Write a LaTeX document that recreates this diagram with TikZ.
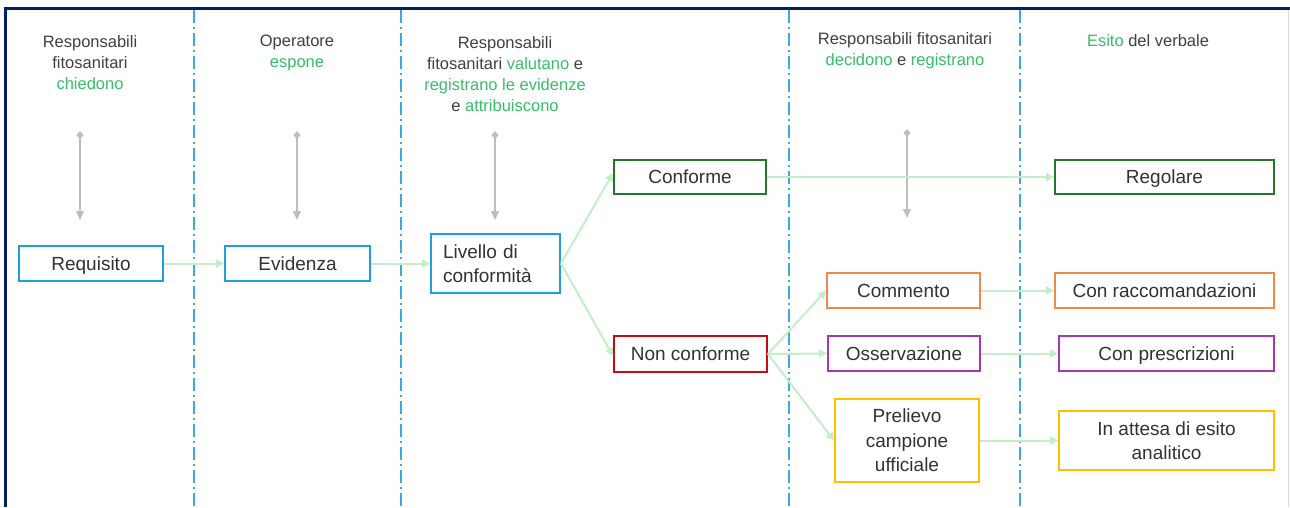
\documentclass[tikz,border=0pt]{standalone}
\usepackage{fontspec}
\setmainfont{Liberation Sans}
\usetikzlibrary{arrows.meta}
\definecolor{navy}{RGB}{0,32,96}
\definecolor{divblue}{RGB}{60,170,225}
\definecolor{boxblue}{RGB}{30,160,220}
\definecolor{dkgreen}{RGB}{40,115,45}
\definecolor{boxred}{RGB}{200,10,20}
\definecolor{boxorange}{RGB}{240,135,75}
\definecolor{boxpurple}{RGB}{165,55,175}
\definecolor{boxyellow}{RGB}{255,192,0}
\definecolor{txtgray}{RGB}{50,50,50}
\definecolor{hdgray}{RGB}{64,64,64}
\definecolor{txtgreen}{RGB}{55,190,105}
\definecolor{pgreen}{RGB}{195,238,200}
\definecolor{arrgray}{RGB}{190,190,190}
\newcommand{\gr}[1]{\textcolor{txtgreen}{#1}}
\begin{document}
\begin{tikzpicture}[x=1pt,y=-1pt,
  box/.style={draw, line width=1.8pt, minimum width=#1, inner sep=0pt, align=center,
    text=txtgray, font=\fontsize{19}{24.5}\selectfont},
  box/.default=144pt,
  one/.style={text depth=0pt},
  hdr/.style={align=center, inner sep=0pt, text=hdgray, font=\fontsize{16.5}{21}\selectfont},
  divider/.style={draw=divblue, line width=1.5pt, dash pattern=on 13pt off 4pt on 2pt off 4pt},
  conn/.style={draw=pgreen, line width=2pt, -{Triangle[width=8pt,length=8pt]}},
  garrow/.style={draw=arrgray, line width=1.5pt, {Diamond[width=7pt,length=8pt]}-{Triangle[width=8pt,length=9pt]}}
]
\useasboundingbox (0,0) rectangle (1290,507);
\fill[white] (0,0) rectangle (1290,507);
% frame
\draw[navy, line width=3pt] (3.5,8) -- (1290,8);
\draw[navy, line width=3pt] (5,6.5) -- (5,507);
\draw[arrgray!60, line width=1pt] (1288,9.5) -- (1288,507);
% dividers
\foreach \x in {194,401,789,1020} \draw[divider] (\x,10) -- (\x,507);
% headers
\node[hdr] (h1) at (90,63) {Responsabili\\fitosanitari\\\gr{chiedono}};
\node[hdr] (h2) at (297,52.5) {Operatore\\\gr{espone}};
\node[hdr] (h3) at (505,74) {Responsabili\\fitosanitari \gr{valutano} e\\\gr{registrano le evidenze}\\e \gr{attribuiscono}};
\node[hdr] (h4) at (905,51) {Responsabili fitosanitari\\\gr{decidono} e \gr{registrano}};
\node[hdr] (h5) at (1148,41) {\gr{Esito} del verbale};
% gray arrows
\coordinate (g1a) at (80,131); \coordinate (g1b) at (80,220);
\coordinate (g2a) at (297,131); \coordinate (g2b) at (297,220);
\coordinate (g3a) at (495,131); \coordinate (g3b) at (495,220);
\coordinate (g4a) at (907,129); \coordinate (g4b) at (907,218);
\draw[garrow] (g1a) -- (g1b);
\draw[garrow] (g2a) -- (g2b);
\draw[garrow] (g3a) -- (g3b);
\draw[garrow] (g4a) -- (g4b);
% boxes
\node[box, one, draw=boxblue, minimum height=35pt] (req) at (91,263.5) {Requisito};
\node[box=145pt, one, draw=boxblue, minimum height=35pt] (evi) at (297.5,263.5) {Evidenza};
\node[box=129pt, draw=boxblue, minimum height=59pt, align=left, text width=105pt] (liv) at (495.5,263.5) {Livello di\\conformità};
\node[box=152pt, one, draw=dkgreen, minimum height=34pt] (conf) at (690,177) {Conforme};
\node[box=219pt, one, draw=dkgreen, minimum height=34pt] (reg) at (1164.5,177) {Regolare};
\node[box=153pt, one, draw=boxred, minimum height=36pt] (nonc) at (690.5,354) {Non conforme};
\node[box=153pt, one, draw=boxorange, minimum height=35pt] (comm) at (903.5,290.5) {Commento};
\node[box=219pt, one, draw=boxorange, minimum height=35pt] (racc) at (1164.5,290.5) {Con raccomandazioni};
\node[box=152pt, one, draw=boxpurple, minimum height=35pt] (oss) at (904,353.5) {Osservazione};
\node[box=215pt, one, draw=boxpurple, minimum height=35pt] (presc) at (1166.5,353.5) {Con prescrizioni};
\node[box=144pt, draw=boxyellow, minimum height=83pt] (prel) at (907,440.5) {Prelievo\\campione\\ufficiale};
\node[box=215pt, draw=boxyellow, minimum height=59pt] (att) at (1166.5,440.5) {In attesa di esito\\analitico};
% connectors
\draw[conn] (req.east) -- (evi.west);
\draw[conn] (evi.east) -- (liv.west);
\draw[conn] (liv.east) -- ([yshift=4pt]conf.west);
\draw[conn] (liv.east) -- ([yshift=-2pt]nonc.west);
\draw[conn] (conf.east) -- (reg.west);
\draw[conn] (nonc.east) -- (comm.west);
\draw[conn] (nonc.east) -- (oss.west);
\draw[conn] (nonc.east) -- (prel.west);
\draw[conn] (comm.east) -- (racc.west);
\draw[conn] (oss.east) -- (presc.west);
\draw[conn] (prel.east) -- (att.west);
\end{tikzpicture}
\end{document}
